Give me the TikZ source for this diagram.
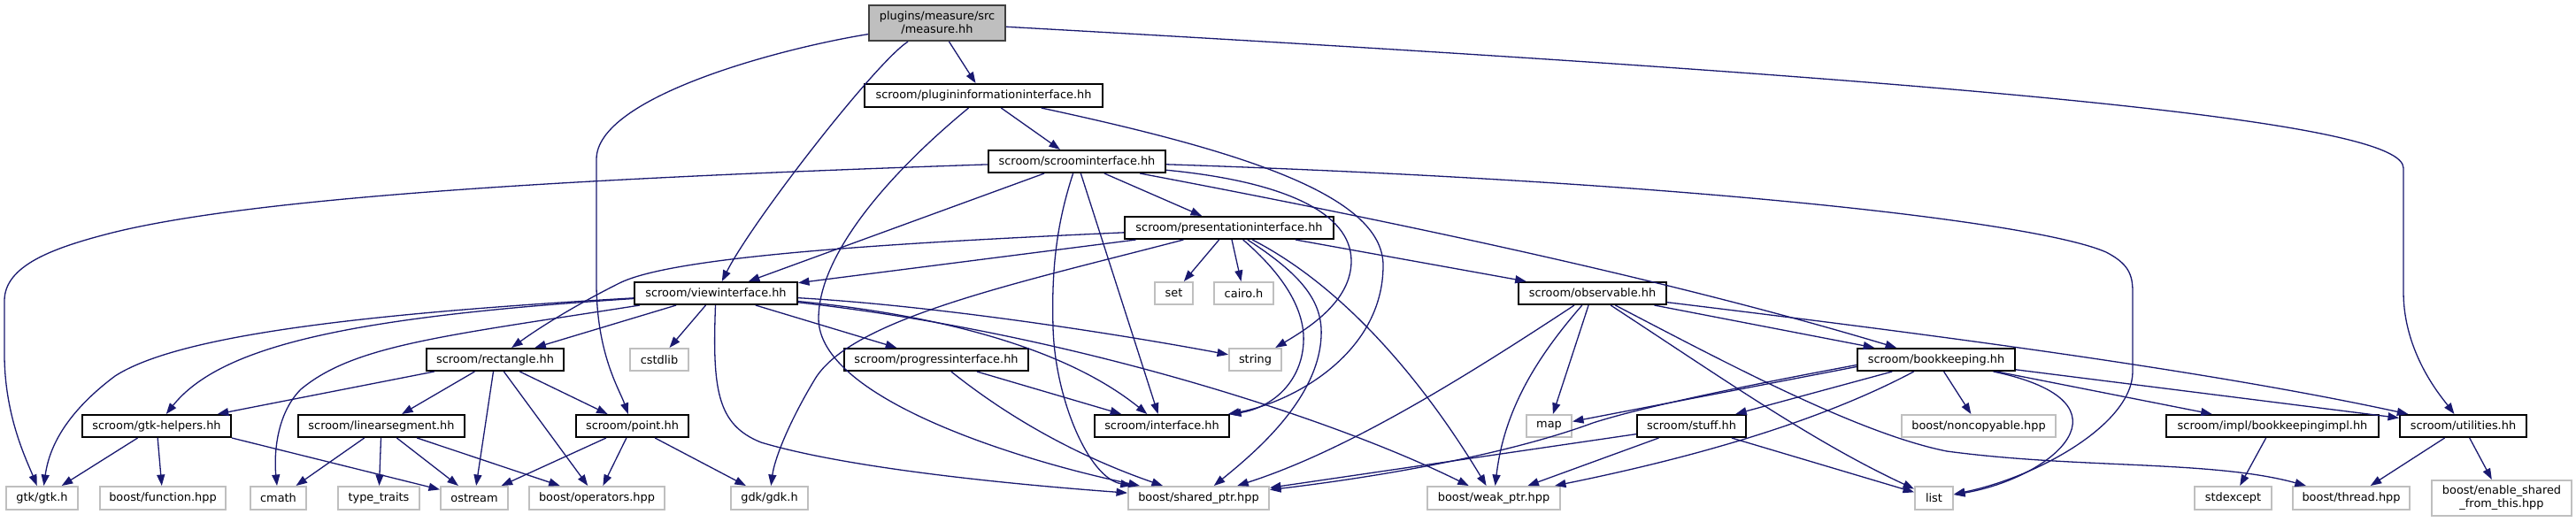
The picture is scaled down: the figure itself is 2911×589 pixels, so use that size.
\documentclass[tikz,border=0pt]{standalone}
\usepackage{fontspec}
\setmainfont{DejaVu Sans}
\usetikzlibrary{arrows.meta}
\definecolor{edgec}{HTML}{191970}
\definecolor{extc}{HTML}{BFBFBF}
\definecolor{rootfill}{HTML}{BFBFBF}
\definecolor{rootdraw}{HTML}{404040}
\newcommand\dfont{\fontsize{12.9}{15}\selectfont}
\newcommand\dnode[7]{%
  \pgfmathsetmacro\dnX{(#3+#5)/2}%
  \pgfmathsetmacro\dnY{(#4+#6)/2}%
  \pgfmathsetmacro\dnW{#5-#3}%
  \pgfmathsetmacro\dnH{#6-#4}%
  \node[#1,minimum width=\dnW pt,minimum height=\dnH pt] (#2) at (\dnX,\dnY) {#7};}
\tikzset{
  hdr/.style={draw=black,line width=2pt,fill=white,inner sep=0pt,align=center,font=\dfont},
  ext/.style={draw=extc,line width=2pt,fill=white,inner sep=0pt,align=center,font=\dfont},
  rootnode/.style={draw=rootdraw,line width=2pt,fill=rootfill,inner sep=0pt,align=center,font=\dfont},
  dep/.style={color=edgec,line width=1.3pt,-{Triangle[length=12.5pt,width=9pt]}}
}
\begin{document}
\begin{tikzpicture}[x=1pt,y=-1pt]
\fill[white] (0,0) rectangle (2911,589);
\useasboundingbox (0,0) rectangle (2911,589);

\dnode{rootnode}{meas}{982}{6}{1136}{46}{plugins/measure/src\\/measure.hh}
\dnode{hdr}{pii}{977}{95}{1246}{121}{scroom/plugininformationinterface.hh}
\dnode{hdr}{si}{1117}{170}{1317}{195}{scroom/scroominterface.hh}
\dnode{hdr}{pi}{1271}{245}{1507}{270}{scroom/presentationinterface.hh}
\dnode{hdr}{vi}{717}{319}{901}{344}{scroom/viewinterface.hh}
\dnode{ext}{set}{1305}{319}{1348}{344}{set}
\dnode{ext}{cairo}{1372}{319}{1439}{344}{cairo.h}
\dnode{hdr}{obs}{1716}{319}{1883}{344}{scroom/observable.hh}
\dnode{hdr}{rect}{482}{394}{637}{419}{scroom/rectangle.hh}
\dnode{ext}{cstdlib}{712}{394}{778}{419}{cstdlib}
\dnode{hdr}{prog}{954}{394}{1162}{419}{scroom/progressinterface.hh}
\dnode{ext}{str}{1389}{394}{1448}{419}{string}
\dnode{hdr}{bk}{2099}{394}{2277}{419}{scroom/bookkeeping.hh}
\dnode{hdr}{gh}{93}{469}{261}{494}{scroom/gtk-helpers.hh}
\dnode{hdr}{ls}{337}{469}{525}{494}{scroom/linearsegment.hh}
\dnode{hdr}{pt}{651}{469}{778}{494}{scroom/point.hh}
\dnode{hdr}{intf}{1237}{469}{1389}{494}{scroom/interface.hh}
\dnode{ext}{map}{1725}{469}{1776}{494}{map}
\dnode{hdr}{stuff}{1850}{469}{1973}{494}{scroom/stuff.hh}
\dnode{ext}{nc}{2149}{469}{2323}{494}{boost/noncopyable.hpp}
\dnode{hdr}{bki}{2448}{469}{2688}{494}{scroom/impl/bookkeepingimpl.hh}
\dnode{hdr}{ut}{2712}{469}{2855}{494}{scroom/utilities.hh}
\dnode{ext}{gtk}{7}{550}{88}{576}{gtk/gtk.h}
\dnode{ext}{fn}{113}{550}{255}{576}{boost/function.hpp}
\dnode{ext}{cmath}{283}{550}{346}{576}{cmath}
\dnode{ext}{tt}{382}{550}{474}{576}{type\_traits}
\dnode{ext}{os}{498}{550}{574}{576}{ostream}
\dnode{ext}{ops}{598}{550}{751}{576}{boost/operators.hpp}
\dnode{ext}{gdk}{826}{550}{913}{576}{gdk/gdk.h}
\dnode{ext}{sp}{1275}{550}{1434}{576}{boost/shared\_ptr.hpp}
\dnode{ext}{wp}{1613}{550}{1763}{576}{boost/weak\_ptr.hpp}
\dnode{ext}{list}{2164}{550}{2207}{576}{list}
\dnode{ext}{se}{2480}{550}{2567}{576}{stdexcept}
\dnode{ext}{th}{2591}{550}{2723}{576}{boost/thread.hpp}
\dnode{ext}{esft}{2748}{543}{2906}{583}{boost/enable\_shared\\\_from\_this.hpp}

% measure.hh
\draw[dep] (meas) -- (pii);
\draw[dep] (meas) .. controls (990,70) and (850,250) .. (vi);
\draw[dep] (meas) .. controls (880,55) and (674,110) .. (674,180) -- (674,320) .. controls (674,400) and (700,440) .. (pt);
\draw[dep] (meas) .. controls (2300,95) and (2716,140) .. (2716,190) -- (2716,330) .. controls (2716,400) and (2760,450) .. (ut);
% plugininformationinterface
\draw[dep] (pii) -- (si);
\draw[dep] (pii) .. controls (1000,200) and (925,290) .. (925,360) .. controls (925,450) and (1150,520) .. (sp);
\draw[dep] (pii) .. controls (1400,170) and (1563,220) .. (1563,300) .. controls (1563,400) and (1460,455) .. (intf);
% scroominterface
\draw[dep] (si) .. controls (700,200) and (300,220) .. (127,263) .. controls (60,280) and (5,300) .. (5,340) -- (5,400) .. controls (5,470) and (30,520) .. (gtk);
\draw[dep] (si) -- (vi);
\draw[dep] (si) .. controls (1195,250) and (1188,300) .. (1190,370) .. controls (1192,450) and (1230,540) .. (sp);
\draw[dep] (si) -- (intf);
\draw[dep] (si) -- (pi);
\draw[dep] (si) .. controls (1450,205) and (1527,240) .. (1527,295) .. controls (1527,340) and (1480,370) .. (str);
\draw[dep] (si) .. controls (1900,205) and (2300,250) .. (2380,285) .. controls (2405,298) and (2410,310) .. (2410,330) -- (2410,420) .. controls (2410,480) and (2300,540) .. (list);
\draw[dep] (si) .. controls (1600,255) and (1900,320) .. (bk);
% presentationinterface
\draw[dep] (pi) -- (vi);
\draw[dep] (pi) .. controls (1000,275) and (760,290) .. (700,320) .. controls (650,345) and (610,370) .. (rect);
\draw[dep] (pi) .. controls (1150,320) and (960,360) .. (920,430) .. controls (890,480) and (875,520) .. (gdk);
\draw[dep] (pi) -- (set);
\draw[dep] (pi) -- (cairo);
\draw[dep] (pi) .. controls (1450,310) and (1475,350) .. (1473,387) .. controls (1471,430) and (1440,460) .. (intf);
\draw[dep] (pi) .. controls (1470,310) and (1495,340) .. (1493,380) .. controls (1490,450) and (1420,510) .. (sp);
\draw[dep] (pi) .. controls (1530,330) and (1620,450) .. (wp);
\draw[dep] (pi) -- (obs);
% viewinterface
\draw[dep] (vi) .. controls (400,355) and (200,380) .. (130,425) .. controls (70,470) and (55,510) .. (gtk);
\draw[dep] (vi) .. controls (400,358) and (250,390) .. (gh);
\draw[dep] (vi) .. controls (500,380) and (400,390) .. (340,440) .. controls (310,470) and (310,520) .. (cmath);
\draw[dep] (vi) -- (rect);
\draw[dep] (vi) -- (cstdlib);
\draw[dep] (vi) .. controls (805,440) and (810,480) .. (860,500) .. controls (960,530) and (1150,548) .. (sp);
\draw[dep] (vi) -- (prog);
\draw[dep] (vi) .. controls (1050,355) and (1200,390) .. (intf);
\draw[dep] (vi) .. controls (1050,345) and (1250,375) .. (str);
\draw[dep] (vi) .. controls (1200,375) and (1500,470) .. (wp);
% rectangle
\draw[dep] (rect) -- (gh);
\draw[dep] (rect) -- (ls);
\draw[dep] (rect) -- (os);
\draw[dep] (rect) -- (ops);
\draw[dep] (rect) -- (pt);
% linearsegment
\draw[dep] (ls) -- (cmath);
\draw[dep] (ls) -- (tt);
\draw[dep] (ls) -- (os);
\draw[dep] (ls) -- (ops);
% gtk-helpers
\draw[dep] (gh) -- (gtk);
\draw[dep] (gh) -- (fn);
\draw[dep] (gh.south east) -- (os);
% point
\draw[dep] (pt) -- (os);
\draw[dep] (pt) -- (ops);
\draw[dep] (pt) -- (gdk);
% progressinterface
\draw[dep] (prog) -- (intf);
\draw[dep] (prog) .. controls (1150,480) and (1230,520) .. (sp);
% observable
\draw[dep] (obs) -- (bk);
\draw[dep] (obs) .. controls (2200,380) and (2500,420) .. (ut);
\draw[dep] (obs) -- (map);
\draw[dep] (obs) .. controls (1740,400) and (1700,460) .. (wp);
\draw[dep] (obs) .. controls (1650,430) and (1520,510) .. (sp);
\draw[dep] (obs) .. controls (1950,430) and (2050,500) .. (list);
\draw[dep] (obs) .. controls (1950,410) and (2100,490) .. (2200,510) .. controls (2350,530) and (2500,520) .. (th);
% bookkeeping
\draw[dep] ([yshift=-8pt]bk.west) -- (map);
\draw[dep] ([yshift=-6pt]bk.west) .. controls (1950,440) and (1850,462) .. (1800,478) .. controls (1700,515) and (1550,540) .. (sp);
\draw[dep] (bk) -- (stuff);
\draw[dep] (bk) .. controls (2050,480) and (1900,520) .. (wp);
\draw[dep] (bk) -- (nc);
\draw[dep] (bk) .. controls (2420,455) and (2320,540) .. (list);
\draw[dep] (bk) -- (bki);
\draw[dep] (bk) -- (ut);
% stuff
\draw[dep] (stuff) -- (sp);
\draw[dep] (stuff) -- (wp);
\draw[dep] (stuff) -- (list);
% others
\draw[dep] (bki) -- (se);
\draw[dep] (ut) -- (th);
\draw[dep] (ut) -- (esft);
\end{tikzpicture}
\end{document}
